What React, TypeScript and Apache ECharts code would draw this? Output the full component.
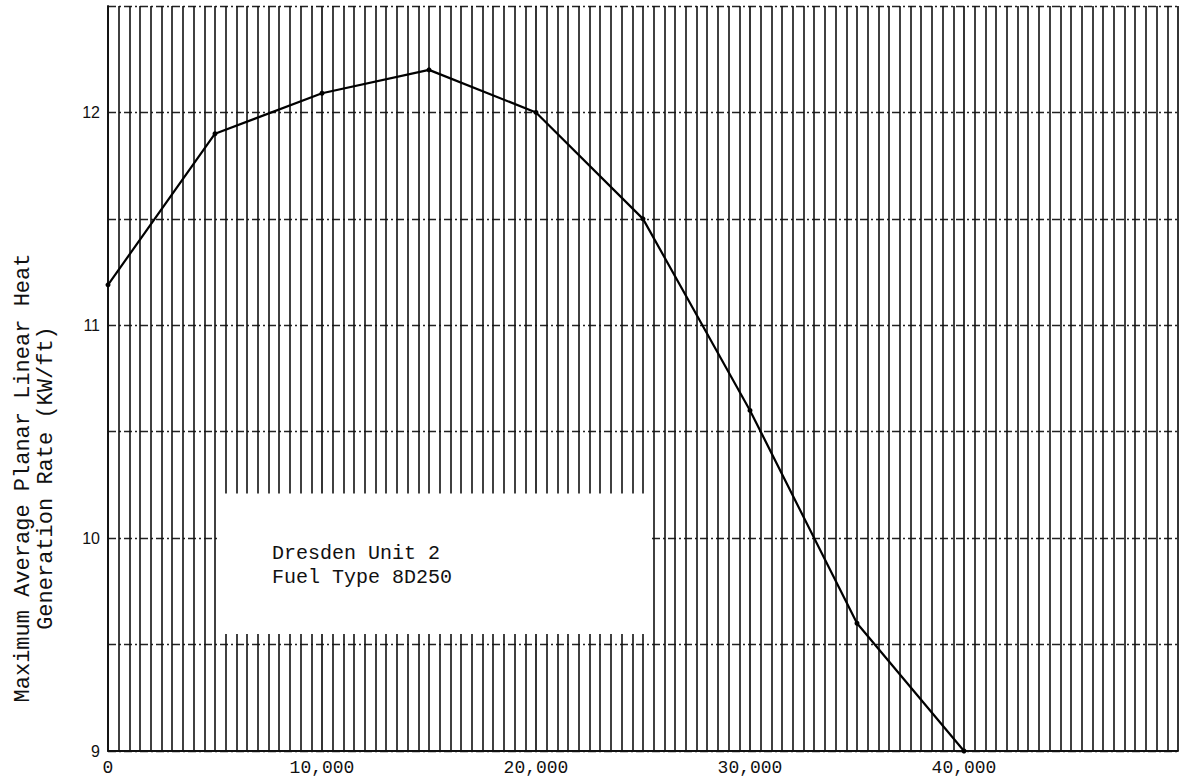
import React, { useEffect, useRef } from 'react';
import * as echarts from 'echarts';

// Exposure (MWd/t) vs MAPLHGR (KW/ft)
const burnup = [0, 5000, 10000, 15000, 20000, 25000, 30000, 35000, 40000];
const maplhgr = [11.19, 11.9, 12.09, 12.2, 12.0, 11.5, 10.6, 9.6, 9.0];
const xTickLabels = ['0', '10,000', '20,000', '30,000', '40,000'];
const yTickLabels = ['9', '10', '11', '12'];
const titleLines = ['Maximum Average Planar Linear Heat', 'Generation Rate (KW/ft)'];
const noteLines = ['Dresden Unit 2', 'Fuel Type 8D250'];
const noteBox = [
  [5150, 9.55],
  [25300, 10.21],
];

export default function App() {
  const ref = useRef<HTMLDivElement>(null);
  useEffect(() => {
    if (!ref.current) return;
    const chart = echarts.init(ref.current, undefined, { renderer: 'svg' });
    const mono = 'Liberation Mono';
    chart.setOption({
      animation: false,
      backgroundColor: '#ffffff',
      grid: { left: 108, right: 11, top: 6, bottom: 30, containLabel: false },
      xAxis: {
        type: 'value',
        min: 0,
        max: 50000,
        interval: 10000,
        axisLine: { show: true, lineStyle: { color: '#111', width: 1.8 } },
        axisTick: { show: false },
        axisLabel: {
          margin: 8,
          color: '#111',
          fontFamily: mono,
          fontSize: 18,
          formatter: (v: number) => {
            const i = Math.round(v / 10000);
            return Math.abs(v - i * 10000) < 1 && i < xTickLabels.length ? xTickLabels[i] : '';
          },
        },
        splitLine: { show: true, lineStyle: { color: '#111', width: 1.7 } },
        minorTick: { show: false, splitNumber: 20 },
        minorSplitLine: { show: true, lineStyle: { color: '#111', width: 1.6 } },
      },
      yAxis: {
        type: 'value',
        min: 9,
        max: 12.5,
        interval: 0.5,
        axisLine: { show: true, lineStyle: { color: '#111', width: 1.8 } },
        axisTick: { show: false },
        axisLabel: {
          margin: 8,
          color: '#111',
          fontFamily: 'Liberation Sans',
          fontSize: 16,
          formatter: (v: number) => {
            const i = Math.round(v - 9);
            return Math.abs(v - 9 - i) < 1e-6 && i < yTickLabels.length ? yTickLabels[i] : '';
          },
        },
        splitLine: { show: true, lineStyle: { color: '#222', width: 1.4, type: [8, 3, 2, 3] } },
      },
      series: [
        {
          type: 'line',
          data: burnup.map((x, i) => [x, maplhgr[i]]),
          lineStyle: { color: '#000', width: 2.2 },
          itemStyle: { color: '#000' },
          symbol: 'circle',
          symbolSize: 5,
          silent: true,
          z: 5,
          markArea: {
            silent: true,
            itemStyle: { color: '#ffffff', opacity: 1 },
            data: [
              [
                { coord: noteBox[0] },
                { coord: noteBox[1] },
              ],
            ],
          },
        },
      ],
      graphic: [
        {
          type: 'text',
          x: 23,
          y: 478,
          rotation: Math.PI / 2,
          style: {
            text: titleLines[0],
            fill: '#111',
            font: `22px "${mono}"`,
            textAlign: 'center',
            textVerticalAlign: 'middle',
          },
        },
        {
          type: 'text',
          x: 46,
          y: 478,
          rotation: Math.PI / 2,
          style: {
            text: titleLines[1],
            fill: '#111',
            font: `22px "${mono}"`,
            textAlign: 'center',
            textVerticalAlign: 'middle',
          },
        },
        {
          type: 'text',
          x: 272,
          y: 553,
          z: 100,
          style: {
            text: noteLines[0],
            fill: '#111',
            font: `20px "${mono}"`,
            textAlign: 'left',
            textVerticalAlign: 'middle',
          },
        },
        {
          type: 'text',
          x: 272,
          y: 577,
          z: 100,
          style: {
            text: noteLines[1],
            fill: '#111',
            font: `20px "${mono}"`,
            textAlign: 'left',
            textVerticalAlign: 'middle',
          },
        },
      ],
    });
    return () => chart.dispose();
  }, []);
  return (
    <div
      ref={ref}
      style={{ position: 'fixed', left: 0, top: 0, width: 1189, height: 781, background: '#fff' }}
    />
  );
}
